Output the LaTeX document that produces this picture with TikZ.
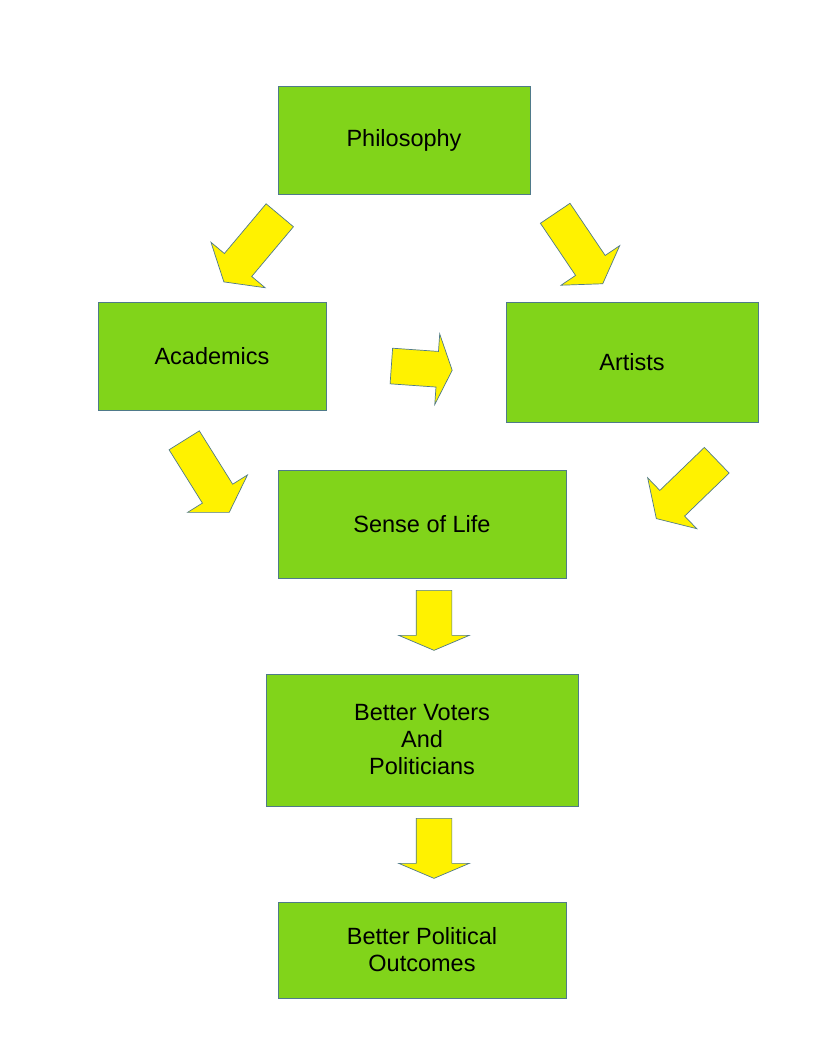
\documentclass[tikz,border=0pt]{standalone}
\usepackage{fontspec}
\setmainfont{Liberation Sans}
\usetikzlibrary{shapes.arrows}

\definecolor{boxgreen}{HTML}{81D41A}
\definecolor{edgeblue}{HTML}{4F7A8A}

\begin{document}
\begin{tikzpicture}[x=1pt, y=-1pt,
    box/.style={draw=edgeblue, fill=boxgreen, line width=0.8pt, align=center,
      font=\fontsize{23.5}{27}\selectfont, inner sep=0pt},
    bigarrow/.style={single arrow, draw=edgeblue, fill=yellow, line width=0.7pt,
      inner xsep=0pt, inner ysep=17.5pt, minimum width=0pt,
      single arrow head extend=17.5pt, single arrow tip angle=116, anchor=tail},
    flatarrow/.style={bigarrow, single arrow tip angle=134, minimum height=60pt}]
    \useasboundingbox (0,0) rectangle (816,1056);

    % boxes
    \node[box, minimum width=252pt, minimum height=108pt] (philosophy) at (404,140) {Philosophy};
    \node[box, minimum width=228pt, minimum height=108pt] (academics) at (212,356) {Academics};
    \node[box, minimum width=252pt, minimum height=120pt] (artists) at (632,362) {Artists};
    \node[box, minimum width=288pt, minimum height=108pt] (sense) at (422,524) {Sense of Life};
    \node[box, minimum width=312pt, minimum height=132pt] (voters) at (422,740) {Better Voters\\And\\Politicians};
    \node[box, minimum width=288pt, minimum height=96pt] (outcomes) at (422,950) {Better Political\\Outcomes};

    % block arrows
    \node[bigarrow, minimum height=87pt, rotate=230] (phil2acad) at (280,215) {};
    \node[bigarrow, minimum height=85pt, rotate=304] (phil2art) at (555,213) {};
    \node[flatarrow, minimum height=61pt, rotate=-4] (acad2art) at (391,366) {};
    \node[bigarrow, minimum height=85pt, rotate=302] (acad2sense) at (184,440) {};
    \node[bigarrow, minimum height=84pt, rotate=224] (art2sense) at (717,460) {};
    \node[flatarrow, rotate=270] (sense2voters) at (434,590) {};
    \node[flatarrow, rotate=270] (voters2out) at (434,818) {};
\end{tikzpicture}
\end{document}
